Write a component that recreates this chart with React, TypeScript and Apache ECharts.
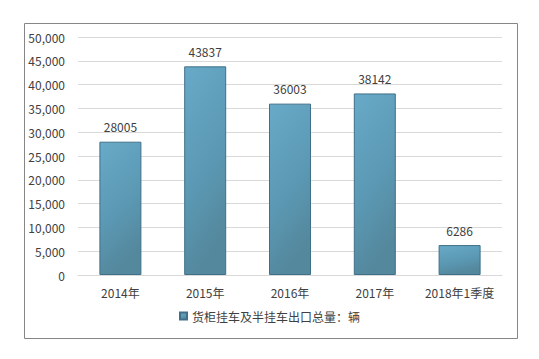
import React, { useEffect, useRef } from "react";
import * as echarts from "echarts";

const categories = ["2014年", "2015年", "2016年", "2017年", "2018年1季度"];
const values = [28005, 43837, 36003, 38142, 6286];
const seriesName = "货柜挂车及半挂车出口总量：辆";

export default function App() {
  const ref = useRef<HTMLDivElement>(null);
  useEffect(() => {
    const chart = echarts.init(ref.current!, null, { renderer: "svg" });
    const font = "'Noto Sans CJK SC', 'Microsoft YaHei', sans-serif";
    chart.setOption({
      animation: false,
      backgroundColor: "#ffffff",
      textStyle: { fontFamily: font },
      graphic: [
        {
          type: "rect",
          shape: { x: 24.5, y: 23.5, width: 493, height: 315 },
          style: { fill: "none", stroke: "#868686", lineWidth: 1 },
          silent: true,
        },
      ],
      grid: { left: 78, right: 37, top: 37, bottom: 84 },
      legend: {
        data: [seriesName],
        bottom: 32,
        left: "center",
        itemWidth: 7,
        itemHeight: 7,
        itemGap: 4,
        textStyle: { fontSize: 12, color: "#404040", fontFamily: font },
        icon: "rect",
      },
      xAxis: {
        type: "category",
        data: categories,
        axisLine: { lineStyle: { color: "#d9d9d9" } },
        axisTick: { show: false },
        axisLabel: { color: "#404040", fontSize: 12, margin: 11, interval: 0, fontFamily: font },
      },
      yAxis: {
        type: "value",
        min: 0,
        max: 50000,
        interval: 5000,
        axisLine: { show: false },
        axisTick: { show: false },
        splitLine: { lineStyle: { color: "#d9d9d9" } },
        axisLabel: {
          color: "#404040",
          fontSize: 12,
          margin: 13,
          fontFamily: font,
          formatter: (v: number) => v.toLocaleString("en-US"),
        },
      },
      series: [
        {
          name: seriesName,
          type: "bar",
          data: values,
          barWidth: 42,
          itemStyle: {
            color: new echarts.graphic.LinearGradient(0, 0, 0.3, 1, [
              { offset: 0, color: "#68aac8" },
              { offset: 0.6, color: "#5b98b3" },
              { offset: 1, color: "#54889d" },
            ]),
            borderColor: "#3f7088",
            borderWidth: 1,
          },
          label: {
            show: true,
            position: "top",
            distance: 9,
            color: "#404040",
            fontSize: 12,
            fontFamily: font,
          },
        },
      ],
    });
    return () => chart.dispose();
  }, []);
  return (
    <div
      ref={ref}
      style={{ position: "fixed", left: 0, top: 0, width: 539, height: 359 }}
    />
  );
}
